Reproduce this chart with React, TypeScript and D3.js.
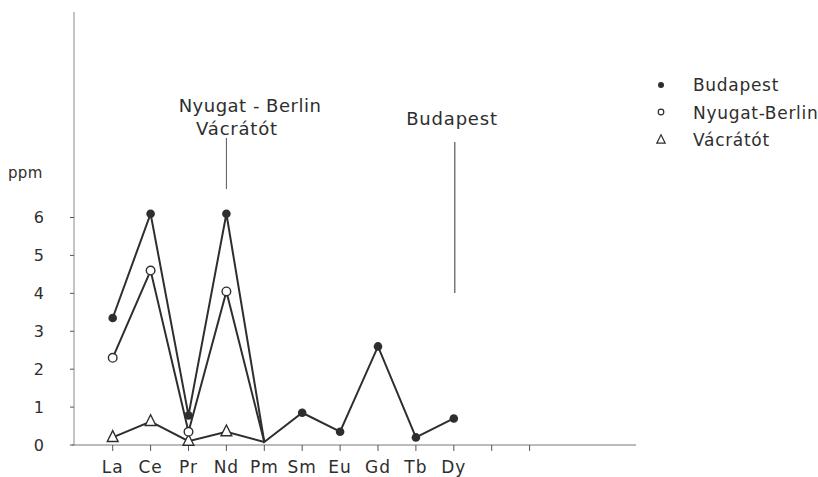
import React from "react";
import * as d3 from "d3";

const categories = ["La", "Ce", "Pr", "Nd", "Pm", "Sm", "Eu", "Gd", "Tb", "Dy"];
const budapest = [3.35, 6.1, 0.78, 6.1, 0.08, 0.85, 0.35, 2.6, 0.2, 0.7];
const nyugatBerlin = [2.3, 4.6, 0.35, 4.05, 0.08];
const vacratot = [0.2, 0.62, 0.1, 0.35, 0.08];
const yTicks = [0, 1, 2, 3, 4, 5, 6];
const extraTickIdx = [10, 11];
const legendLabels = ["Budapest", "Nyugat-Berlin", "Vácrátót"];

const W = 818;
const H = 477;
const FONT = "'DejaVu Sans', sans-serif";
const INK = "#2e2e2e";

export default function App() {
  const x = d3.scaleLinear().domain([0, 9]).range([112.7, 453.8]);
  const y = d3.scaleLinear().domain([0, 6]).range([445, 217.5]);
  const axisLeft = 74;
  const axisRight = 636;
  const line = d3
    .line<number>()
    .x((_, i) => x(i))
    .y((d) => y(d));

  const tri = (cx: number, cy: number, s: number) =>
    `M${cx},${cy - s * 0.75} L${cx + s * 0.6},${cy + s * 0.45} L${cx - s * 0.6},${cy + s * 0.45} Z`;

  return (
    <svg width={W} height={H} style={{ position: "absolute", left: 0, top: 0, background: "#fff" }}>
      <rect width={W} height={H} fill="#fff" />
      {/* y axis */}
      <line x1={axisLeft} x2={axisLeft} y1={12} y2={y(0)} stroke="#888" strokeWidth={1} />
      {yTicks.map((t) => (
        <g key={t}>
          <line x1={axisLeft - 4} x2={axisLeft} y1={y(t)} y2={y(t)} stroke="#555" strokeWidth={1} />
          <text x={44} y={y(t)} dy="0.36em" textAnchor="end" fontFamily={FONT} fontSize={16} fill={INK}>
            {t}
          </text>
        </g>
      ))}
      <text x={8} y={178} fontFamily={FONT} fontSize={15} fill={INK} letterSpacing={0.3}>
        ppm
      </text>
      {/* x axis */}
      <line x1={axisLeft - 2} x2={axisRight} y1={y(0)} y2={y(0)} stroke="#777" strokeWidth={1} />
      {categories.map((c, i) => (
        <g key={c}>
          <line x1={x(i)} x2={x(i)} y1={y(0)} y2={y(0) + 6} stroke="#555" strokeWidth={1} />
          <text x={x(i)} y={473} textAnchor="middle" fontFamily={FONT} fontSize={17} fill={INK} letterSpacing={1}>
            {c}
          </text>
        </g>
      ))}
      {extraTickIdx.map((i) => (
        <line key={i} x1={x(i)} x2={x(i)} y1={y(0)} y2={y(0) + 6} stroke="#555" strokeWidth={1} />
      ))}

      {/* series lines */}
      <path d={line(budapest) || ""} fill="none" stroke={INK} strokeWidth={2} />
      <path d={line(nyugatBerlin) || ""} fill="none" stroke={INK} strokeWidth={2} />
      <path d={line(vacratot) || ""} fill="none" stroke={INK} strokeWidth={2} />

      {/* markers */}
      {vacratot.slice(0, 4).map((v, i) => (
        <path key={"v" + i} d={tri(x(i), y(v), 9)} fill="#fff" stroke={INK} strokeWidth={1.4} />
      ))}
      {nyugatBerlin.slice(0, 4).map((v, i) => (
        <circle key={"n" + i} cx={x(i)} cy={y(v)} r={4.3} fill="#fff" stroke={INK} strokeWidth={1.4} />
      ))}
      {budapest.map((v, i) =>
        i === 4 ? null : <circle key={"b" + i} cx={x(i)} cy={y(v)} r={4.3} fill={INK} />
      )}

      {/* annotations */}
      <text x={250} y={112} textAnchor="middle" fontFamily={FONT} fontSize={18} fill={INK} letterSpacing={0.5}>
        Nyugat - Berlin
      </text>
      <text x={237} y={135} textAnchor="middle" fontFamily={FONT} fontSize={18} fill={INK} letterSpacing={0.8}>
        Vácrátót
      </text>
      <line x1={x(3)} x2={x(3)} y1={138} y2={189} stroke="#555" strokeWidth={1} />
      <text x={452} y={125} textAnchor="middle" fontFamily={FONT} fontSize={18} fill={INK} letterSpacing={0.8}>
        Budapest
      </text>
      <line x1={x(9) + 1} x2={x(9) + 1} y1={142} y2={293} stroke="#555" strokeWidth={1.2} />

      {/* legend */}
      <circle cx={661} cy={85} r={3} fill={INK} />
      <circle cx={661} cy={112} r={2.8} fill="#fff" stroke={INK} strokeWidth={1.2} />
      <path d={tri(661, 140, 7)} fill="#fff" stroke={INK} strokeWidth={1.2} />
      {legendLabels.map((l, i) => (
        <text key={l} x={693} y={91 + i * 27.5} fontFamily={FONT} fontSize={17} fill={INK} letterSpacing={0.7}>
          {l}
        </text>
      ))}
    </svg>
  );
}
